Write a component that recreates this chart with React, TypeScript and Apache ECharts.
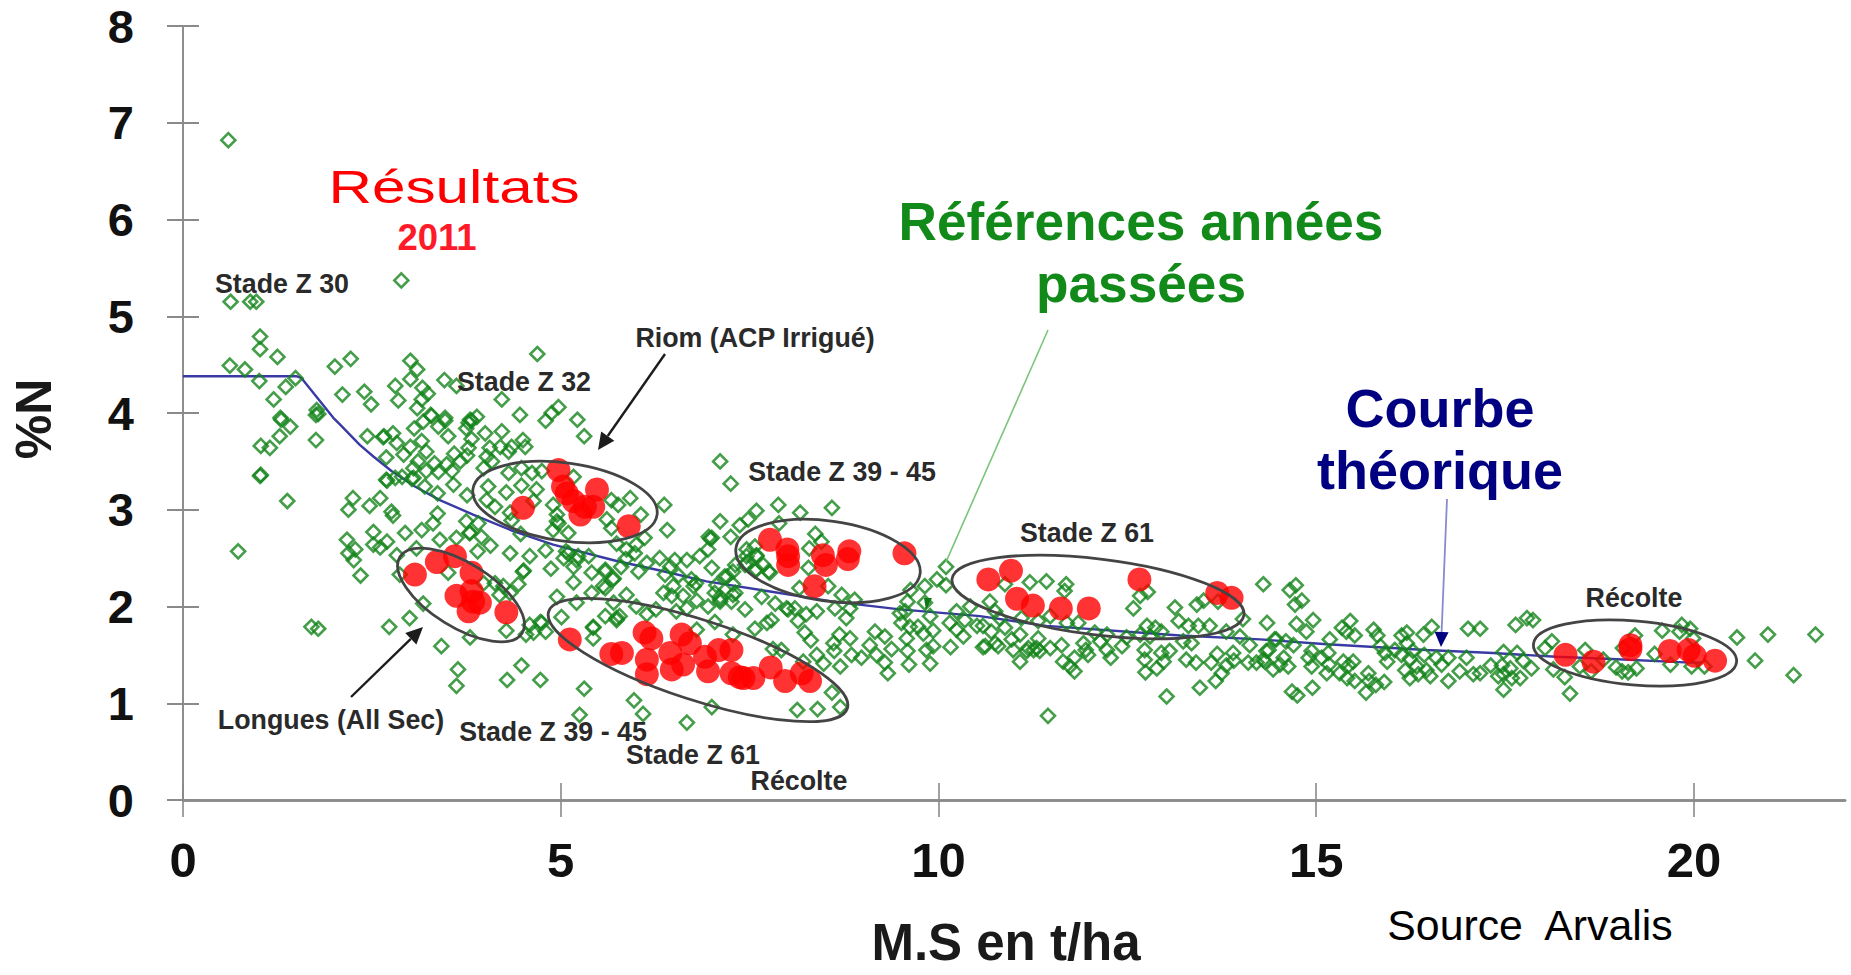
import React, { useEffect, useRef } from "react";
import * as echarts from "echarts";

const xTicks = [0, 5, 10, 15, 20];
const yTicks = [0, 1, 2, 3, 4, 5, 6, 7, 8];

const refEarly: number[][] = [
  [.60,6.82],[.63,5.15],[.89,5.15],[.97,5.15],[2.89,5.37],[1.02,4.79],[1.02,4.66],[1.25,4.58],[.62,4.49],[.82,4.45],[1.01,4.33],[1.36,4.27],[1.49,4.36],[1.20,4.14],[2.01,4.48],[2.22,4.56],[2.11,4.19],[2.40,4.22],[2.49,4.09],[2.81,4.28],[2.85,4.13],[3.01,4.54],[3.10,4.45],[3.01,4.35],[3.17,4.26],[3.24,4.20],[3.16,4.14],[3.10,4.05],[3.46,4.34],[3.62,4.28],[1.77,4.03],[1.76,3.98],[1.79,3.99],[1.29,3.95],[3.28,3.98],[3.47,3.95],[3.89,3.96],[3.80,3.93],
  [1.30,3.93],[1.42,3.86],[1.28,3.76],[1.03,3.66],[1.15,3.64],[1.03,3.36],[1.76,3.72],[2.44,3.76],[2.66,3.76],[2.78,3.79],[2.83,3.69],[2.69,3.54],[2.92,3.57],[2.69,3.31],[2.81,3.33],[2.90,3.34],
  [1.02,3.35],[1.38,3.09],[.73,2.57],[1.70,1.79],[1.79,1.77],[2.73,1.79],[3.0,1.88],[3.18,2.03],[3.42,1.59],[3.80,1.68],[3.64,1.35],[3.62,1.18],[2.35,2.32],[2.25,3.12],[2.19,3.0],[2.47,3.04],[2.61,3.12],[2.76,2.98],[2.78,2.94],[3.37,2.96],[3.31,2.86],[3.75,2.88],[3.91,2.86],[3.16,2.79],[2.94,2.76],[2.52,2.77],[2.70,2.67],[2.52,2.64],[2.61,2.61],[2.17,2.69],[2.28,2.59],[2.19,2.55],[2.26,2.48],[2.83,2.53],[2.87,2.33],[3.09,2.60],[3.40,2.69],[3.62,2.71],[3.80,2.76],[3.95,2.72],[4.07,2.63],[3.90,2.57],[3.51,2.35],[2.70,3.30],[3.05,3.33],[3.20,3.24],[3.37,3.17],[3.76,3.15],
];
const refStemExtension: number[][] = [
  [4.69,4.61],[4.22,4.14],[4.46,3.98],[4.97,4.06],[4.88,4.0],[4.80,3.92],[5.22,3.93],[5.31,3.76],[3.29,3.97],[3.18,3.91],[3.47,3.92],[3.38,3.86],[3.06,3.84],[3.82,3.92],[3.78,3.90],[3.75,3.84],[2.65,3.75],[3.01,3.65],[3.16,3.71],[3.22,3.60],[3.51,3.76],[3.82,3.73],[4.0,3.79],[4.22,3.81],[4.50,3.72],[4.53,3.65],[4.35,3.65],[4.2,3.65],[4.06,3.64],[4.02,3.55],[3.78,3.64],[3.76,3.56],[3.59,3.58],[3.67,3.50],[3.49,3.47],[3.56,3.40],[3.33,3.48],[3.11,3.50],[3.05,3.43],[3.22,3.40],[3.38,3.39],[3.03,3.32],[3.58,3.26],[3.98,3.43],[4.09,3.50],[4.31,3.60],[4.04,3.24],[4.31,3.38],[4.48,3.43],[4.62,3.38],[4.75,3.40],[4.28,3.18],[4.48,3.25],[4.68,3.21],[4.02,3.10],[4.13,3.03],[4.64,3.09],[4.33,2.97],[4.35,2.89],[4.90,3.05],[4.95,2.88],[4.90,2.79],[5.10,2.76],[5.17,3.34],[5.67,3.10],[5.76,3.05],[5.92,3.12],[5.61,2.90],[5.67,2.81],[3.79,2.76],[4.47,2.75],[4.33,2.55],[4.59,2.52],[4.80,2.58],[5.07,2.57],[5.04,2.50],[5.23,2.52],[5.37,2.52],[5.87,2.59],[5.98,2.55],[5.86,2.49],[5.80,2.41],[5.17,2.41],[4.87,2.39],[4.51,2.37],[5.41,2.35],[5.59,2.38],[5.69,2.28],[5.17,2.25],[4.44,2.23],[4.13,2.24],[4.24,2.21],[4.33,2.14],[4.19,2.12],[3.98,2.24],[5.59,2.19],[4.95,2.10],[5.41,2.14],[5.87,2.12],[5.70,2.04],[5.01,1.89],[5.21,2.04],[5.59,1.90],[5.74,1.88],[5.43,1.79],[4.73,1.84],
];
const refHeading: number[][] = [
  [7.25,3.27],[6.37,3.05],[6.41,2.79],[7.88,3.05],[7.59,2.99],[7.48,2.90],[7.37,2.84],[7.11,2.88],[7.25,2.72],[6.96,2.72],[6.98,2.70],[7.0,2.71],[6.06,2.95],[6.11,2.71],[6.0,2.64],[5.74,2.65],[6.14,2.45],[6.03,2.36],[6.31,2.50],[6.51,2.48],[6.67,2.48],[6.84,2.52],[6.95,2.59],[6.38,2.33],[6.45,2.41],[6.56,2.32],[6.73,2.28],[6.79,2.24],[6.76,2.21],[7.0,2.40],[6.49,2.21],[6.36,2.14],[6.47,2.11],[6.62,2.11],[6.80,2.06],[6.95,2.0],[6.53,1.95],[6.67,1.98],[7.06,2.22],[7.2,2.31],[7.28,2.23],[7.11,2.10],[7.11,2.05],[7.26,2.05],[7.31,2.14],[7.46,2.59],[7.59,2.52],[7.46,2.45],[7.59,2.38],[7.75,2.36],[7.66,2.10],[7.84,2.03],[7.44,1.97],[7.99,1.98],[7.04,1.84],[7.57,1.77],[7.79,1.86],[7.73,1.83],[6.80,1.76],[7.28,1.71],[7.81,1.56],[7.92,1.55],[7.0,.96],[6.67,.80],[5.97,1.03],[6.09,.89],[5.31,1.15],[5.25,.88],[4.48,1.39],[4.29,1.24],[4.73,1.24],[5.43,1.67],[5.43,1.78],[5.74,1.86],[5.78,1.9],[5.59,2.36],[5.56,2.21],[5.70,2.29],[6.0,2.0],[6.14,1.92],[6.26,1.97],[5.10,2.55],[5.21,2.48],[4.50,2.36],[4.59,1.81],[4.75,1.83],[4.80,1.74],[4.64,1.73],[4.54,1.71],[4.28,1.75],[4.97,2.86],[4.95,2.95],
  [7.11,3.50],[8.17,2.97],[8.59,3.02],[7.89,2.86],[8.37,2.75],[8.45,2.67],[8.29,2.60],[7.57,2.62],[7.46,2.52],[7.59,2.53],[7.68,2.43],[7.77,2.35],[7.57,2.37],[7.44,2.43],[7.31,2.43],[7.28,2.36],[7.17,2.31],[7.28,2.12],[7.04,2.14],[7.11,2.07],[8.28,2.40],[8.16,2.19],[8.54,2.21],[8.01,1.97],[8.10,1.98],[8.39,1.95],[8.25,1.92],[8.14,1.85],[8.23,1.73],[8.31,1.65],[8.63,1.98],[8.72,2.12],[8.89,2.07],[8.83,1.98],[8.78,1.88],[8.69,1.71],[8.61,1.62],[8.62,1.54],[8.83,1.67],[8.85,1.50],[8.98,1.47],[8.70,1.38],[8.48,1.41],[8.39,1.50],[9.09,1.60],[9.16,1.74],[9.29,1.69],[9.18,1.50],[9.29,1.42],[9.33,1.31],[9.38,1.56],[9.59,1.54],[9.61,1.40],[9.89,1.41],[9.84,1.55],[9.93,1.59],[9.93,1.75],[9.58,1.67],[9.51,1.83],[9.49,1.93],[9.56,1.95],[9.59,2.05],[9.63,2.17],[9.62,1.79],[9.73,1.79],[9.80,1.72],[9.82,2.04],[9.89,1.90],[9.82,2.21],[9.98,2.28],[10.10,2.41],[10.10,2.22],[10.15,1.83],[10.16,1.58],[10.24,1.95],[10.24,1.76],[10.35,1.86],[10.33,1.69],[10.51,1.80],[10.59,1.58],[10.68,2.05],[10.75,1.95],[10.70,1.74],[10.75,1.62],[10.42,2.0],[8.59,1.11],[8.13,.93],[8.40,.94],[8.70,.96],[8.21,1.43],
];
const refFlowering: number[][] = [
  [10.88,2.23],[11.21,2.25],[11.43,2.26],[11.69,2.23],[11.67,2.16],[10.81,1.88],[11.10,1.88],[11.48,1.90],[11.32,1.85],[11.70,1.83],[11.85,1.83],[10.59,1.80],[10.88,1.78],[11.08,1.71],[10.97,1.66],[11.32,1.67],[10.62,1.59],[10.79,1.59],[10.99,1.55],[11.08,1.43],[11.19,1.57],[11.26,1.55],[11.34,1.54],[11.17,1.54],[11.30,1.57],[11.48,1.57],[11.63,1.60],[11.65,1.43],[11.74,1.38],[11.80,1.33],[11.80,1.47],[11.92,1.62],[11.95,1.55],[11.98,1.50],[12.07,1.73],[12.23,1.71],[12.14,1.64],[12.23,1.55],[12.28,1.47],[12.43,1.59],[12.49,1.68],[12.58,1.98],[12.67,2.11],[12.77,2.15],[12.67,1.71],[12.76,1.80],[12.87,1.78],[12.95,1.74],[12.80,1.69],[12.73,1.55],[12.73,1.45],[12.74,1.32],[12.89,1.36],[12.98,1.43],[13.06,1.54],[12.95,1.52],[13.13,1.99],[13.18,1.85],[13.31,1.80],[13.24,1.64],[13.35,1.62],[13.28,1.45],[13.41,1.42],[13.02,1.07],[13.46,1.16],[13.42,2.02],[13.51,2.06],[13.70,2.05],[13.59,1.80],[13.44,1.80],[13.61,1.42],[13.69,1.51],[13.90,1.52],[13.91,1.44],[13.81,1.39],[13.75,1.31],[13.67,1.23],[14.03,1.87],[13.81,1.74],[13.99,1.69],[14.12,1.60],[14.30,2.23],[14.35,1.83],[14.45,1.66],[14.37,1.55],[14.10,1.42],[14.21,1.42],[14.30,1.45],[14.43,1.35],[11.45,.87],
];
const refHarvest: number[][] = [
  [14.73,2.22],[14.65,2.17],[14.81,2.06],[14.72,2.02],[14.74,1.82],[14.96,1.86],[14.87,1.74],[14.47,1.66],[14.60,1.64],[14.70,1.60],[15.18,1.66],[14.34,1.54],[14.57,1.47],[14.32,1.43],[14.52,1.40],[14.63,1.38],[14.68,1.12],[14.75,1.08],[14.95,1.16],[14.94,1.54],[14.90,1.47],[15.07,1.47],[15.16,1.52],[14.94,1.38],[15.17,1.40],[15.14,1.31],[15.31,1.31],[15.41,1.26],[15.51,1.23],[15.69,1.31],[15.70,1.23],[15.66,1.11],[15.79,1.19],[15.90,1.22],[15.36,1.43],[15.49,1.43],[15.43,1.39],[15.34,1.78],[15.45,1.85],[15.40,1.74],[15.51,1.70],[15.76,1.76],[15.81,1.70],[15.85,1.59],[15.91,1.52],[15.94,1.43],[16.04,1.55],[16.13,1.50],[16.13,1.70],[16.20,1.73],[16.20,1.62],[16.28,1.54],[16.24,1.46],[16.42,1.71],[16.53,1.79],[16.43,1.50],[16.33,1.38],[16.18,1.34],[16.24,1.26],[16.35,1.30],[16.46,1.34],[16.51,1.28],[16.59,1.47],[16.66,1.40],[16.75,1.47],[16.75,1.23],[16.90,1.33],[16.99,1.47],[17.01,1.77],[17.17,1.77],[17.08,1.30],[17.17,1.31],[17.31,1.39],[17.48,1.53],[17.46,1.39],[17.41,1.28],[17.48,1.14],[17.48,1.30],[17.57,1.36],[17.59,1.26],[17.70,1.26],[17.66,1.52],[17.74,1.44],[17.85,1.36],[17.64,1.81],[17.79,1.88],[17.87,1.86],[18.12,1.64],[18.03,1.57],[18.14,1.35],
  [18.29,1.27],[18.36,1.10],[18.49,1.38],[18.56,1.55],[18.64,1.33],[18.80,1.45],[18.97,1.37],[19.05,1.33],[19.13,1.32],[19.24,1.36],[19.22,1.70],[19.06,1.57],[19.48,1.51],[19.58,1.75],[19.69,1.40],[19.81,1.74],[19.84,1.81],[19.95,1.77],[19.99,1.67],[19.97,1.38],[20.14,1.38],[20.57,1.68],[20.98,1.71],[21.61,1.71],[20.81,1.44],[21.32,1.29],
];

const results2011: number[][] = [
  [18.30,1.50],[18.67,1.43],[19.16,1.56],[19.16,1.60],[19.68,1.54],[19.93,1.55],[20.01,1.49],[20.28,1.44],
  [10.66,2.28],[10.96,2.37],[11.04,2.08],[11.25,2.01],[11.62,1.98],[11.99,1.98],[12.66,2.28],[13.69,2.14],[13.88,2.09],
  [7.77,2.69],[8.0,2.59],[8.01,2.52],[8.01,2.43],[8.47,2.53],[8.51,2.43],[8.82,2.57],[8.80,2.49],[9.55,2.55],[8.36,2.21],
  [4.97,3.41],[5.03,3.24],[5.08,3.17],[5.17,3.09],[5.26,2.95],[5.32,3.03],[5.43,3.03],[5.48,3.21],[4.50,3.02],[5.90,2.83],
  [3.07,2.33],[3.36,2.46],[3.60,2.52],[3.82,2.35],[3.62,2.11],[3.82,2.16],[3.93,2.04],[3.78,1.95],[4.28,1.94],[3.84,2.05],
  [5.12,1.66],[5.67,1.51],[5.81,1.52],[6.11,1.73],[6.20,1.67],[6.14,1.45],[6.14,1.30],[6.45,1.52],[6.47,1.35],[6.62,1.40],[6.60,1.71],[6.71,1.62],[6.91,1.48],[7.09,1.55],[7.26,1.55],[6.95,1.33],[7.26,1.31],[7.37,1.27],[7.42,1.26],[7.55,1.26],[7.78,1.37],[7.97,1.23],[8.19,1.31],[8.30,1.23],
];

const theoreticalCurve: number[][] = [
  [0,4.38],[1.5,4.38],[1.57,4.36],[1.99,3.95],[2.08,3.88],[2.34,3.67],[2.52,3.55],[2.76,3.40],[3.07,3.24],[3.40,3.10],[3.84,2.95],[4.37,2.78],[4.90,2.64],[5.74,2.47],[6.27,2.38],[6.93,2.26],[7.73,2.16],[8.61,2.05],[9.49,1.97],[10.55,1.90],[11.43,1.80],[13.2,1.70],[14.26,1.66],[15.14,1.61],[16.46,1.55],[17.34,1.52],[18.18,1.48],[18.84,1.46],[19.95,1.42],[20.1,1.42],
];

const allRefs = [...refEarly, ...refStemExtension, ...refHeading, ...refFlowering, ...refHarvest];

const SANS = '"Liberation Sans", Arial, sans-serif';
const AXIS = "#8a8a8a";

function label(text: string, x: number, y: number, size: number, fill: string, weight: string | number = "bold", extra: any = {}) {
  return {
    type: "text", x, y, z: 20, silent: true, ...extra,
    style: { text, fill, fontFamily: SANS, fontSize: size, fontWeight: weight, align: "center", verticalAlign: "middle" },
  };
}
function ring(cx: number, cy: number, rx: number, ry: number, deg: number) {
  return {
    type: "ellipse", x: cx, y: cy, rotation: (-deg * Math.PI) / 180, z: 15, silent: true,
    shape: { cx: 0, cy: 0, rx, ry },
    style: { fill: "none", stroke: "#444444", lineWidth: 2.8 },
  };
}
function arrow(x1: number, y1: number, x2: number, y2: number, color: string, headColor: string, width: number, headL: number, headW: number, z = 16) {
  const L = Math.hypot(x2 - x1, y2 - y1);
  const ux = (x2 - x1) / L, uy = (y2 - y1) / L;
  const bx = x2 - ux * headL, by = y2 - uy * headL;
  return [
    { type: "line", z, silent: true, shape: { x1, y1, x2: bx, y2: by }, style: { stroke: color, lineWidth: width } },
    { type: "polygon", z, silent: true, shape: { points: [[x2, y2], [bx - uy * headW, by + ux * headW], [bx + uy * headW, by - ux * headW]] }, style: { fill: headColor } },
  ];
}

export default function App() {
  const ref = useRef<HTMLDivElement>(null);
  useEffect(() => {
    const chart = echarts.init(ref.current!, undefined, { renderer: "svg" });
    const baseX = {
      type: "value", min: 0, max: 22, position: "bottom", splitLine: { show: false },
      axisLine: { show: true, onZero: false, lineStyle: { color: AXIS, width: 2.5 } },
    };
    const baseY = {
      type: "value", min: 0, max: 8, position: "left", splitLine: { show: false },
      axisLine: { show: true, onZero: false, lineStyle: { color: AXIS, width: 1.6 } },
    };
    chart.setOption({
      animation: false,
      backgroundColor: "#ffffff",
      grid: { left: 183, right: 6, top: 26, bottom: 175, containLabel: false, outerBoundsMode: "none" },
      xAxis: [
        {
          ...baseX,
          name: "M.S en t/ha", nameLocation: "middle", nameGap: 117,
          nameTextStyle: { fontFamily: SANS, fontWeight: "bold", fontSize: 51, color: "#1a1a1a", padding: [0, 16, 0, 0] },
          axisTick: { show: true, length: 17, inside: false, customValues: xTicks, lineStyle: { color: AXIS, width: 1.6 } },
          axisLabel: { show: true, margin: 38, customValues: xTicks, fontFamily: SANS, fontWeight: "bold", fontSize: 49, lineHeight: 44, color: "#111" },
        },
        { ...baseX, axisTick: { show: true, length: 17, inside: true, customValues: xTicks, lineStyle: { color: AXIS, width: 1.6 } }, axisLabel: { show: false } },
      ],
      yAxis: [
        {
          ...baseY,
          name: "%N", nameLocation: "middle", nameGap: 124, nameRotate: 90,
          nameTextStyle: { fontFamily: SANS, fontWeight: "bold", fontSize: 50, color: "#1a1a1a", padding: [0, 12, 0, 0] },
          axisTick: { show: true, length: 16, inside: false, customValues: yTicks, lineStyle: { color: AXIS, width: 2 } },
          axisLabel: { show: true, margin: 49, customValues: yTicks, fontFamily: SANS, fontWeight: "bold", fontSize: 47, lineHeight: 42, color: "#111" },
        },
        { ...baseY, axisTick: { show: true, length: 16, inside: true, customValues: yTicks, lineStyle: { color: AXIS, width: 2 } }, axisLabel: { show: false } },
      ],
      series: [
        {
          name: "Courbe théorique", type: "line", data: theoreticalCurve, showSymbol: false, smooth: false, z: 2,
          lineStyle: { color: "#3a3aa5", width: 2.4 },
        },
        {
          name: "Références années passées", type: "scatter", data: allRefs, symbol: "diamond", symbolSize: 14, z: 3,
          itemStyle: { color: "transparent", borderColor: "#15851c", borderWidth: 2.6 },
        },
        {
          name: "Résultats 2011", type: "scatter", data: results2011, symbol: "circle", symbolSize: 24, z: 4,
          itemStyle: { color: "#ff0000" },
        },
      ],
      graphic: {
        elements: [
          ring(565, 502, 93, 39, 8),
          ring(461, 595, 72, 32, 32),
          ring(698, 660, 157, 40, 18),
          ring(828, 561, 93, 40, 8),
          ring(1098, 597, 147, 38, 7),
          ring(1635, 653, 102, 32, 5),
          ...arrow(665, 354, 598, 450, "#1c1c1c", "#1c1c1c", 2.4, 17, 8),
          ...arrow(351, 697, 423, 627, "#1c1c1c", "#1c1c1c", 2.4, 17, 8),
          ...arrow(1048, 330, 946, 562, "#7cc47c", "#7cc47c", 1.6, 0.1, 0.1),
          { type: "polygon", z: 16, silent: true, shape: { points: [[924, 598], [932, 598], [926, 610]] }, style: { fill: "#0f7a15" } },
          ...arrow(1447, 499, 1441, 647, "#8a8ace", "#000080", 1.8, 15, 7),
          label("Résultats", 454, 187, 46, "#ff0000", "normal", { scaleX: 1.31 }),
          label("2011", 437, 237, 36.5, "#ff1a2a"),
          label("Stade Z 30", 282, 284, 26.8, "#2a2a2a"),
          label("Stade Z 32", 524, 382, 26.8, "#2a2a2a"),
          label("Riom (ACP Irrigué)", 755, 338, 26.8, "#2a2a2a"),
          label("Stade Z 39 - 45", 842, 472, 26.8, "#2a2a2a"),
          label("Stade Z 61", 1087, 533, 26.8, "#2a2a2a"),
          label("Récolte", 1634, 598, 26.8, "#2a2a2a"),
          label("Longues (All Sec)", 331, 720, 26.8, "#2a2a2a"),
          label("Stade Z 39 - 45", 553, 732, 26.8, "#2a2a2a"),
          label("Stade Z 61", 693, 755, 26.8, "#2a2a2a"),
          label("Récolte", 799, 781, 26.8, "#2a2a2a"),
          label("Références années", 1141, 221, 53.2, "#128a1a"),
          label("passées", 1141, 283, 53.2, "#128a1a"),
          label("Courbe", 1440, 408, 54, "#000080"),
          label("théorique", 1440, 470, 54, "#000080"),
          label("Source  Arvalis", 1530, 925, 42.8, "#000000", "normal"),
        ],
      },
    });
    return () => chart.dispose();
  }, []);
  return <div ref={ref} style={{ position: "fixed", left: 0, top: 0, width: 1851, height: 975 }} />;
}
